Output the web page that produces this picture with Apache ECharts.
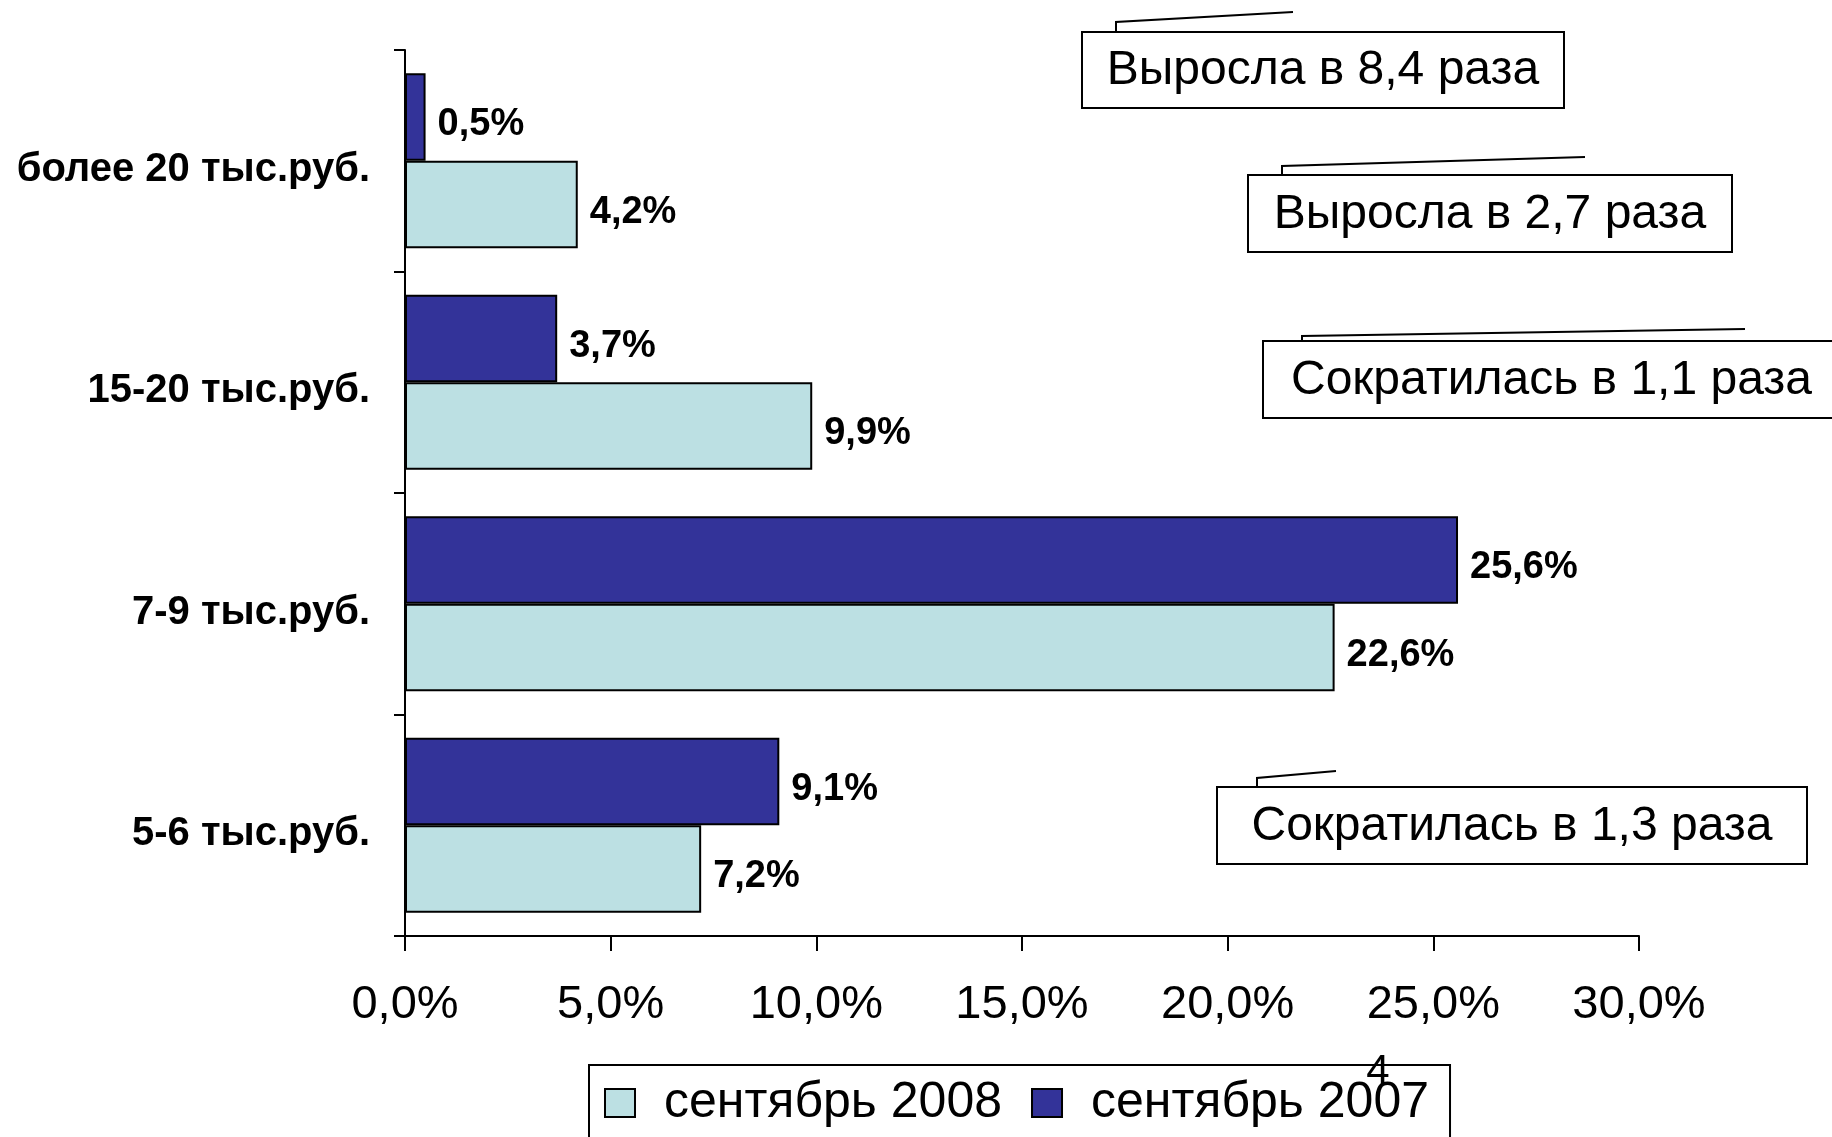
<!DOCTYPE html>
<html>
<head>
<meta charset="utf-8">
<script src="https://cdn.jsdelivr.net/npm/echarts@6/dist/echarts.min.js"></script>
<style>
  html, body { margin: 0; padding: 0; background: #fff; }
  #chart { width: 1832px; height: 1137px; }
</style>
</head>
<body>
<div id="chart"></div>
<script>
// categories from bottom to top (as in the picture, top = более 20)
var categories = ['5-6 тыс.руб.', '7-9 тыс.руб.', '15-20 тыс.руб.', 'более 20 тыс.руб.']
var seriesNames = ['сентябрь 2008', 'сентябрь 2007']
var sep2008 = [7.2, 22.6, 9.9, 4.2]
var sep2007 = [9.1, 25.6, 3.7, 0.5]
var xTicks = [0, 5, 10, 15, 20, 25, 30]
var notes = ['Выросла в 8,4 раза', 'Выросла в 2,7 раза', 'Сократилась в 1,1 раза', 'Сократилась в 1,3 раза']
var pageNo = '4'

var FONT = '"Liberation Sans", Arial, sans-serif'

function pct (v) {
  return v.toFixed(1).replace('.', ',') + '%'
}

// annotation box + leader line
function noteBox (text, x1, y1, x2, y2, leader) {
  return [
    {
      type: 'polyline',
      shape: { points: leader },
      style: { stroke: '#000', lineWidth: 2, fill: null },
      z: 10
    },
    {
      type: 'rect',
      shape: { x: x1, y: y1, width: x2 - x1, height: y2 - y1 },
      style: { fill: '#fff', stroke: '#000', lineWidth: 2 },
      z: 10
    },
    {
      type: 'text',
      x: (x1 + x2) / 2,
      y: (y1 + y2) / 2 + 1,
      style: {
        text: text,
        fontSize: 48,
        fontFamily: FONT,
        fill: '#000',
        align: 'center',
        verticalAlign: 'middle'
      },
      z: 11
    }
  ]
}

var valueLabel = {
  show: true,
  position: 'right',
  distance: 12,
  offset: [0, 8],
  fontSize: 38,
  fontWeight: 'bold',
  fontFamily: FONT,
  color: '#000',
  formatter: function (p) { return pct(p.value) }
}

var chart = echarts.init(document.getElementById('chart'))

chart.setOption({
  animation: false,
  backgroundColor: '#fff',
  grid: {
    left: 405,
    right: 193,
    top: 50,
    bottom: 201,
    containLabel: false
  },
  xAxis: {
    type: 'value',
    min: 0,
    max: xTicks[xTicks.length - 1],
    interval: xTicks[1] - xTicks[0],
    axisLine: { show: true, lineStyle: { color: '#000', width: 2 } },
    axisTick: { show: true, length: 15, lineStyle: { color: '#000', width: 2 } },
    splitLine: { show: false },
    axisLabel: {
      margin: 46,
      fontSize: 47,
      fontFamily: FONT,
      color: '#000',
      formatter: function (v) { return pct(v) }
    }
  },
  yAxis: {
    type: 'category',
    data: categories,
    axisLine: { show: true, lineStyle: { color: '#000', width: 2 } },
    axisTick: { show: true, length: 11, lineStyle: { color: '#000', width: 2 } },
    axisLabel: {
      margin: 35,
      fontSize: 40,
      fontWeight: 'bold',
      fontFamily: FONT,
      color: '#000',
      verticalAlign: 'top',
      lineHeight: 18
    }
  },
  legend: {
    data: seriesNames,
    left: 589,
    top: 1065,
    icon: 'rect',
    itemWidth: 30,
    itemHeight: 28,
    itemGap: 29,
    padding: [13, 21, 30, 15],
    borderColor: '#000',
    borderWidth: 2,
    backgroundColor: '#fff',
    selectedMode: false,
    itemStyle: { borderColor: '#000', borderWidth: 2 },
    textStyle: {
      fontSize: 50,
      fontFamily: FONT,
      color: '#000',
      padding: [0, 0, 0, 24]
    }
  },
  // 2007 first so that it sits on top inside each category band
  series: [
    {
      name: seriesNames[1],
      type: 'bar',
      data: sep2007,
      barGap: '0%',
      barCategoryGap: '21%',
      itemStyle: { color: '#333399', borderColor: '#000', borderWidth: 2 },
      label: valueLabel
    },
    {
      name: seriesNames[0],
      type: 'bar',
      data: sep2008,
      barGap: '0%',
      barCategoryGap: '21%',
      itemStyle: { color: '#BCE0E3', borderColor: '#000', borderWidth: 2 },
      label: valueLabel
    }
  ],
  graphic: [].concat(
    noteBox(notes[0], 1082, 32, 1564, 108, [[1116, 32], [1116, 22], [1293, 12]]),
    noteBox(notes[1], 1248, 175, 1732, 252, [[1282, 175], [1282, 166], [1585, 157]]),
    noteBox(notes[2], 1263, 341, 1840, 418, [[1302, 341], [1302, 336], [1745, 329]]),
    noteBox(notes[3], 1217, 787, 1807, 864, [[1257, 787], [1257, 778], [1336, 771]]),
    [{
      type: 'text',
      x: 1378,
      y: 1072,
      style: {
        text: pageNo,
        fontSize: 42,
        fontFamily: FONT,
        fill: '#000',
        align: 'center',
        verticalAlign: 'middle'
      },
      z: 20
    }]
  )
})
</script>
</body>
</html>
